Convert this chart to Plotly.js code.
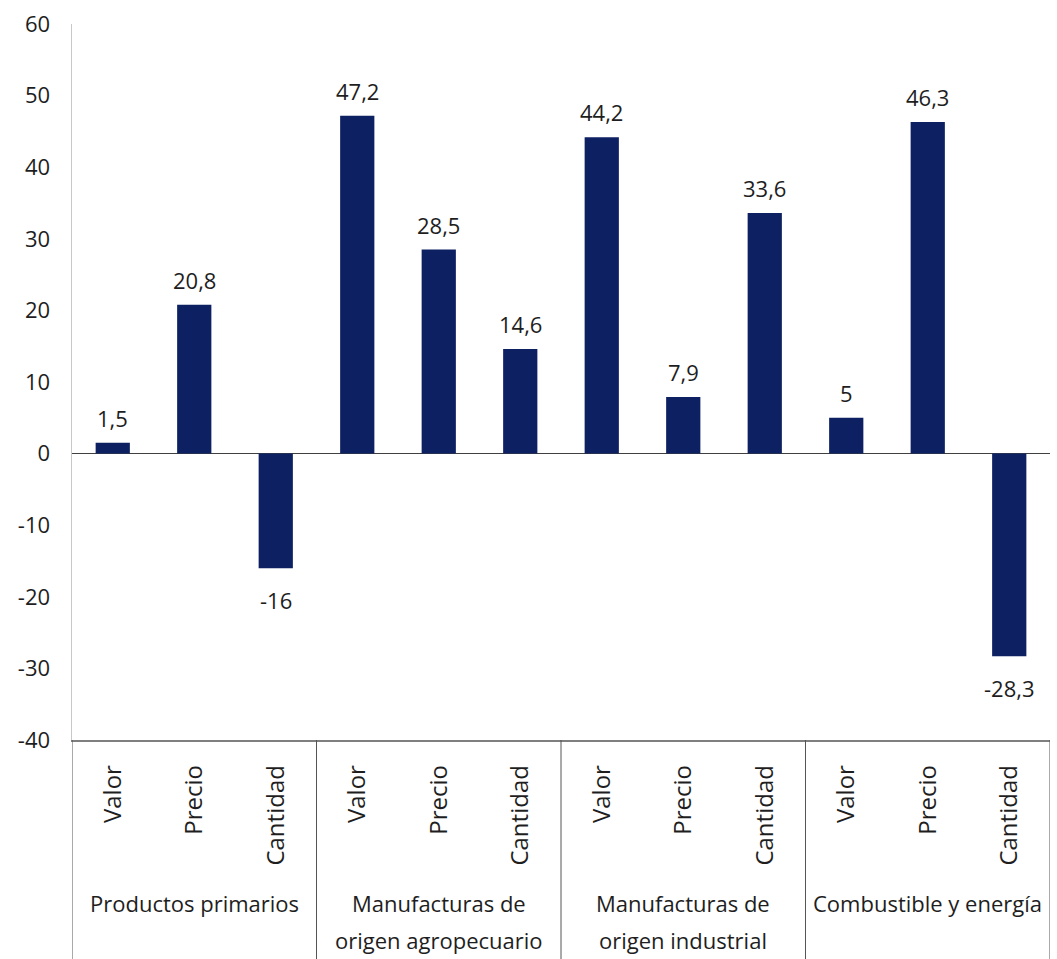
<!DOCTYPE html>
<html>
<head>
<meta charset="utf-8">
<script src="https://cdn.plot.ly/plotly-3.0.1.min.js"></script>
<style>html,body{margin:0;padding:0;background:#fff;}#chart{width:1057px;height:959px;}</style>
</head>
<body>
<div id="chart"></div>
<script>
// Data
const groupLine1 = ["Productos primarios", "Manufacturas de", "Manufacturas de", "Combustible y energía"];
const groupLine2 = ["", "origen agropecuario", "origen industrial", ""];
const subLabels = ["Valor", "Precio", "Cantidad"];
const values = [1.5, 20.8, -16, 47.2, 28.5, 14.6, 44.2, 7.9, 33.6, 5, 46.3, -28.3];
const yTicks = [-40, -30, -20, -10, 0, 10, 20, 30, 40, 50, 60];

const FONT = "'Open Sans', sans-serif";
const TXT = '#1e1e1e';
const xs = values.map((v, i) => i);
const tickText = values.map((v, i) => subLabels[i % subLabels.length]);
const fmt = v => String(v).replace('.', ',');

const trace = {
  type: 'bar',
  x: xs,
  y: values,
  marker: {color: '#0d2062'},
  width: 0.42,
  hoverinfo: 'skip'
};

const annotations = [];
values.forEach((v, i) => {
  annotations.push({
    x: i, y: v, xref: 'x', yref: 'y', text: fmt(v), showarrow: false,
    yanchor: 'middle', yshift: v >= 0 ? 25 : -32,
    font: {family: FONT, size: 22, color: TXT}
  });
});
const nSub = subLabels.length;
groupLine1.forEach((g, k) => {
  const cx = k * nSub + (nSub - 1) / 2;
  annotations.push({x: cx, y: -0.2277, xref: 'x', yref: 'paper', text: g, showarrow: false,
    yanchor: 'middle', font: {family: FONT, size: 22, color: TXT}});
  if (groupLine2[k]) {
    annotations.push({x: cx, y: -0.2795, xref: 'x', yref: 'paper', text: groupLine2[k], showarrow: false,
      yanchor: 'middle', font: {family: FONT, size: 22, color: TXT}});
  }
});

const shapes = [];
for (let k = 0; k <= groupLine1.length; k++) {
  const bx = k * nSub - 0.5;
  shapes.push({type: 'line', xref: 'x', yref: 'paper', x0: bx, x1: bx, y0: 0, y1: -0.32,
    line: {color: '#555555', width: 1}});
}

const layout = {
  width: 1057, height: 959,
  margin: {l: 72, r: 7, t: 24, b: 219},
  paper_bgcolor: '#fff', plot_bgcolor: '#fff',
  showlegend: false,
  font: {family: FONT, size: 22, color: TXT},
  xaxis: {
    type: 'linear', range: [-0.5, values.length - 0.5],
    tickvals: xs, ticktext: tickText, tickangle: -90,
    showgrid: false, zeroline: false,
    showline: true, linecolor: '#7f7f7f', linewidth: 1.5,
    ticks: '', ticklabelstandoff: 14,
    tickfont: {family: FONT, size: 24, color: TXT},
    fixedrange: true
  },
  yaxis: {
    range: [-40, 60], tickvals: yTicks, ticktext: yTicks.map(String),
    showgrid: false, zeroline: true, zerolinecolor: '#404040', zerolinewidth: 1.5,
    showline: true, linecolor: '#c8c8c8', linewidth: 1.5,
    ticks: '', ticklabelstandoff: 16,
    tickfont: {family: FONT, size: 22, color: TXT},
    fixedrange: true
  },
  annotations: annotations,
  shapes: shapes
};

Plotly.newPlot('chart', [trace], layout, {displayModeBar: false, staticPlot: true});
</script>
</body>
</html>
